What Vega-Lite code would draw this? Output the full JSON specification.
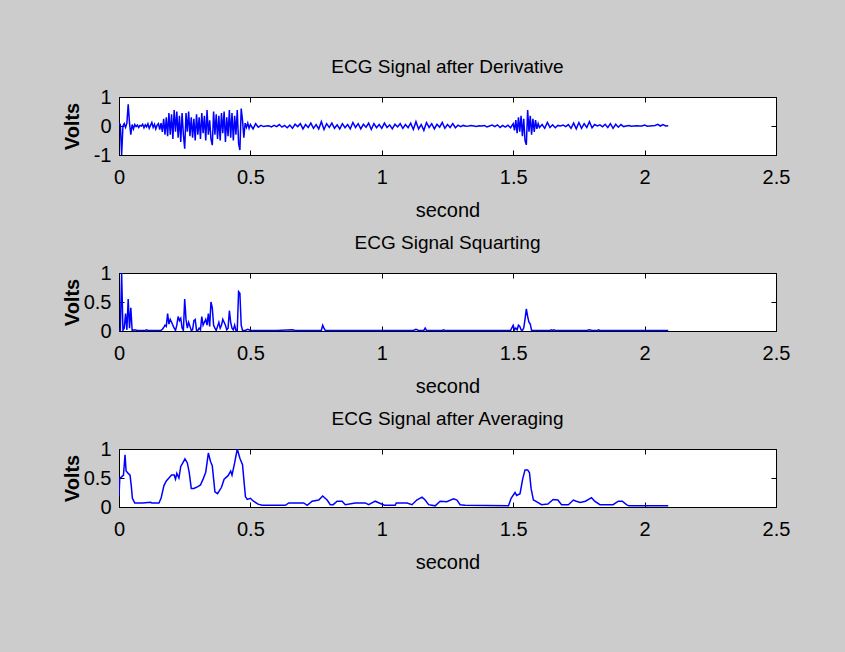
{
"$schema": "https://vega.github.io/schema/vega-lite/v6.json",
"background": "#cccccc",
"padding": {"left": 61, "top": 57, "right": 54, "bottom": 81},
"datasets": {
"d": [
{"t":0,"v":0.1},{"t":0.005,"v":0.05},{"t":0.01,"v":-1.0},{"t":0.015,"v":0.0},{"t":0.02,"v":0.08},{"t":0.025,"v":-0.05},{"t":0.03,"v":0.1},{"t":0.035,"v":0.75},{"t":0.04,"v":0.1},{"t":0.045,"v":-0.3},
{"t":0.05,"v":0.05},{"t":0.055,"v":-0.1},{"t":0.06,"v":0.05},{"t":0.065,"v":-0.02},{"t":0.07,"v":0.03},{"t":0.075,"v":-0.05},{"t":0.08,"v":0.02},{"t":0.085,"v":0.0},{"t":0.09,"v":0.06},{"t":0.095,"v":-0.06},
{"t":0.1,"v":0.04},{"t":0.105,"v":-0.03},{"t":0.11,"v":0.08},{"t":0.115,"v":-0.08},{"t":0.12,"v":0.02},{"t":0.125,"v":0.12},{"t":0.13,"v":-0.05},{"t":0.135,"v":0.06},{"t":0.14,"v":-0.1},{"t":0.145,"v":0.03},
{"t":0.15,"v":0.08},{"t":0.155,"v":-0.12},{"t":0.16,"v":0.1},{"t":0.165,"v":-0.2},{"t":0.17,"v":0.25},{"t":0.175,"v":-0.3},{"t":0.18,"v":0.3},{"t":0.185,"v":-0.35},{"t":0.19,"v":0.45},{"t":0.195,"v":-0.3},
{"t":0.2,"v":0.4},{"t":0.205,"v":-0.45},{"t":0.21,"v":0.55},{"t":0.215,"v":-0.2},{"t":0.22,"v":0.5},{"t":0.225,"v":-0.4},{"t":0.23,"v":0.35},{"t":0.235,"v":-0.55},{"t":0.24,"v":0.45},{"t":0.245,"v":-0.3},
{"t":0.25,"v":-0.78},{"t":0.255,"v":0.45},{"t":0.26,"v":-0.2},{"t":0.265,"v":0.5},{"t":0.27,"v":-0.35},{"t":0.275,"v":0.3},{"t":0.28,"v":-0.4},{"t":0.285,"v":0.25},{"t":0.29,"v":-0.5},{"t":0.295,"v":0.4},
{"t":0.3,"v":-0.3},{"t":0.305,"v":0.3},{"t":0.31,"v":-0.45},{"t":0.315,"v":0.45},{"t":0.32,"v":-0.25},{"t":0.325,"v":0.35},{"t":0.33,"v":-0.5},{"t":0.335,"v":0.55},{"t":0.34,"v":-0.3},{"t":0.345,"v":0.2},
{"t":0.35,"v":-0.45},{"t":0.355,"v":-0.66},{"t":0.36,"v":0.5},{"t":0.365,"v":-0.3},{"t":0.37,"v":0.4},{"t":0.375,"v":-0.45},{"t":0.38,"v":0.35},{"t":0.385,"v":-0.5},{"t":0.39,"v":0.45},{"t":0.395,"v":-0.25},
{"t":0.4,"v":0.5},{"t":0.405,"v":-0.55},{"t":0.41,"v":0.3},{"t":0.415,"v":-0.35},{"t":0.42,"v":0.55},{"t":0.425,"v":-0.4},{"t":0.43,"v":0.45},{"t":0.435,"v":-0.5},{"t":0.44,"v":0.35},{"t":0.445,"v":-0.3},
{"t":0.45,"v":0.55},{"t":0.455,"v":-0.6},{"t":0.46,"v":-0.83},{"t":0.465,"v":0.6},{"t":0.47,"v":0.2},{"t":0.475,"v":-0.4},{"t":0.48,"v":0.1},{"t":0.485,"v":-0.05},{"t":0.49,"v":0.1},{"t":0.495,"v":-0.08},
{"t":0.5,"v":0.05},{"t":0.51,"v":-0.1},{"t":0.52,"v":0.08},{"t":0.53,"v":-0.04},{"t":0.54,"v":0.02},{"t":0.55,"v":-0.02},{"t":0.56,"v":0.0},{"t":0.57,"v":0.01},{"t":0.58,"v":-0.03},{"t":0.59,"v":0.02},
{"t":0.6,"v":-0.02},{"t":0.61,"v":0.05},{"t":0.62,"v":-0.04},{"t":0.63,"v":0.02},{"t":0.64,"v":-0.06},{"t":0.65,"v":0.03},{"t":0.66,"v":-0.08},{"t":0.67,"v":0.06},{"t":0.68,"v":-0.02},{"t":0.69,"v":0.08},
{"t":0.7,"v":-0.1},{"t":0.71,"v":0.05},{"t":0.72,"v":-0.05},{"t":0.73,"v":0.1},{"t":0.74,"v":-0.08},{"t":0.75,"v":0.05},{"t":0.76,"v":-0.1},{"t":0.77,"v":0.15},{"t":0.78,"v":-0.12},{"t":0.79,"v":0.08},
{"t":0.8,"v":-0.05},{"t":0.81,"v":0.1},{"t":0.82,"v":-0.08},{"t":0.83,"v":0.04},{"t":0.84,"v":-0.1},{"t":0.85,"v":0.08},{"t":0.86,"v":-0.06},{"t":0.87,"v":0.05},{"t":0.88,"v":-0.1},{"t":0.89,"v":0.12},
{"t":0.9,"v":-0.05},{"t":0.91,"v":0.08},{"t":0.92,"v":-0.1},{"t":0.93,"v":0.06},{"t":0.94,"v":-0.04},{"t":0.95,"v":0.1},{"t":0.96,"v":-0.12},{"t":0.97,"v":0.08},{"t":0.98,"v":-0.06},{"t":0.99,"v":0.05},
{"t":1.0,"v":-0.08},{"t":1.01,"v":0.1},{"t":1.02,"v":-0.05},{"t":1.03,"v":0.04},{"t":1.04,"v":-0.1},{"t":1.05,"v":0.06},{"t":1.06,"v":-0.03},{"t":1.07,"v":0.08},{"t":1.08,"v":-0.08},{"t":1.09,"v":0.05},
{"t":1.1,"v":-0.06},{"t":1.11,"v":0.1},{"t":1.12,"v":-0.12},{"t":1.13,"v":0.15},{"t":1.14,"v":-0.1},{"t":1.15,"v":0.05},{"t":1.16,"v":-0.15},{"t":1.17,"v":0.12},{"t":1.18,"v":-0.05},{"t":1.19,"v":0.08},
{"t":1.2,"v":-0.1},{"t":1.21,"v":0.06},{"t":1.22,"v":-0.04},{"t":1.23,"v":0.12},{"t":1.24,"v":-0.08},{"t":1.25,"v":0.05},{"t":1.26,"v":-0.05},{"t":1.27,"v":0.08},{"t":1.28,"v":-0.06},{"t":1.29,"v":0.03},
{"t":1.3,"v":-0.02},{"t":1.31,"v":0.02},{"t":1.32,"v":-0.01},{"t":1.33,"v":0.0},{"t":1.34,"v":0.02},{"t":1.35,"v":0.0},{"t":1.36,"v":-0.02},{"t":1.37,"v":0.01},{"t":1.38,"v":0.0},{"t":1.39,"v":0.02},
{"t":1.4,"v":-0.03},{"t":1.41,"v":0.0},{"t":1.42,"v":0.03},{"t":1.43,"v":-0.02},{"t":1.44,"v":0.04},{"t":1.45,"v":-0.05},{"t":1.46,"v":0.02},{"t":1.47,"v":-0.04},{"t":1.48,"v":0.03},{"t":1.49,"v":-0.06},
{"t":1.5,"v":0.08},{"t":1.505,"v":-0.15},{"t":1.51,"v":0.2},{"t":1.515,"v":-0.25},{"t":1.52,"v":0.3},{"t":1.525,"v":-0.2},{"t":1.53,"v":0.35},{"t":1.535,"v":-0.35},{"t":1.54,"v":0.25},{"t":1.545,"v":-0.5},
{"t":1.55,"v":-0.65},{"t":1.555,"v":0.55},{"t":1.56,"v":-0.2},{"t":1.565,"v":0.35},{"t":1.57,"v":-0.3},{"t":1.575,"v":0.25},{"t":1.58,"v":-0.2},{"t":1.585,"v":0.2},{"t":1.59,"v":-0.1},{"t":1.595,"v":0.08},
{"t":1.6,"v":-0.05},{"t":1.61,"v":0.05},{"t":1.62,"v":-0.08},{"t":1.63,"v":0.12},{"t":1.64,"v":-0.05},{"t":1.65,"v":0.04},{"t":1.66,"v":-0.06},{"t":1.67,"v":0.02},{"t":1.68,"v":0.0},{"t":1.69,"v":0.03},
{"t":1.7,"v":-0.02},{"t":1.71,"v":0.05},{"t":1.72,"v":-0.08},{"t":1.73,"v":0.1},{"t":1.74,"v":-0.1},{"t":1.75,"v":0.12},{"t":1.76,"v":-0.08},{"t":1.77,"v":0.08},{"t":1.78,"v":-0.05},{"t":1.79,"v":0.15},
{"t":1.8,"v":-0.06},{"t":1.81,"v":0.05},{"t":1.82,"v":0.0},{"t":1.83,"v":0.04},{"t":1.84,"v":-0.03},{"t":1.85,"v":0.06},{"t":1.86,"v":-0.05},{"t":1.87,"v":0.08},{"t":1.88,"v":-0.08},{"t":1.89,"v":0.06},
{"t":1.9,"v":-0.04},{"t":1.91,"v":0.05},{"t":1.92,"v":-0.02},{"t":1.93,"v":0.0},{"t":1.94,"v":0.02},{"t":1.95,"v":-0.01},{"t":1.96,"v":0.0},{"t":1.97,"v":0.01},{"t":1.98,"v":0.0},{"t":1.99,"v":0.0},
{"t":2.0,"v":0.03},{"t":2.01,"v":-0.01},{"t":2.02,"v":0.0},{"t":2.03,"v":0.01},{"t":2.04,"v":0.02},{"t":2.05,"v":0.06},{"t":2.06,"v":0.0},{"t":2.07,"v":0.05},{"t":2.08,"v":0.0},{"t":2.09,"v":0.01}
],
"s": [
{"t":0,"v":0.02},{"t":0.005,"v":0.01},{"t":0.01,"v":1.0},{"t":0.015,"v":0.01},{"t":0.02,"v":0.05},{"t":0.025,"v":0.3},{"t":0.03,"v":0.02},{"t":0.035,"v":0.55},{"t":0.04,"v":0.05},{"t":0.045,"v":0.4},
{"t":0.05,"v":0.01},{"t":0.06,"v":0.02},{"t":0.07,"v":0.01},{"t":0.1,"v":0.01},{"t":0.105,"v":0.02},{"t":0.11,"v":0.01},{"t":0.16,"v":0.01},{"t":0.165,"v":0.03},{"t":0.17,"v":0.06},{"t":0.175,"v":0.1},
{"t":0.18,"v":0.08},{"t":0.185,"v":0.3},{"t":0.19,"v":0.12},{"t":0.195,"v":0.2},{"t":0.2,"v":0.15},{"t":0.205,"v":0.1},{"t":0.21,"v":0.05},{"t":0.215,"v":0.01},{"t":0.22,"v":0.1},{"t":0.225,"v":0.25},
{"t":0.23,"v":0.18},{"t":0.235,"v":0.22},{"t":0.24,"v":0.05},{"t":0.245,"v":0.01},{"t":0.25,"v":0.55},{"t":0.255,"v":0.2},{"t":0.26,"v":0.05},{"t":0.265,"v":0.15},{"t":0.27,"v":0.08},{"t":0.275,"v":0.01},
{"t":0.28,"v":0.02},{"t":0.285,"v":0.18},{"t":0.29,"v":0.2},{"t":0.295,"v":0.01},{"t":0.3,"v":0.01},{"t":0.305,"v":0.05},{"t":0.31,"v":0.02},{"t":0.315,"v":0.25},{"t":0.32,"v":0.1},{"t":0.325,"v":0.15},
{"t":0.33,"v":0.2},{"t":0.335,"v":0.1},{"t":0.34,"v":0.3},{"t":0.345,"v":0.08},{"t":0.35,"v":0.5},{"t":0.355,"v":0.4},{"t":0.36,"v":0.1},{"t":0.365,"v":0.05},{"t":0.37,"v":0.01},{"t":0.375,"v":0.08},
{"t":0.38,"v":0.15},{"t":0.385,"v":0.05},{"t":0.39,"v":0.1},{"t":0.395,"v":0.2},{"t":0.4,"v":0.15},{"t":0.405,"v":0.1},{"t":0.41,"v":0.02},{"t":0.415,"v":0.05},{"t":0.42,"v":0.35},{"t":0.425,"v":0.15},
{"t":0.43,"v":0.05},{"t":0.435,"v":0.02},{"t":0.44,"v":0.1},{"t":0.445,"v":0.01},{"t":0.45,"v":0.01},{"t":0.455,"v":0.68},{"t":0.46,"v":0.65},{"t":0.465,"v":0.1},{"t":0.47,"v":0.01},{"t":0.48,"v":0.01},
{"t":0.49,"v":0.03},{"t":0.5,"v":0.01},{"t":0.6,"v":0.01},{"t":0.66,"v":0.02},{"t":0.67,"v":0.01},{"t":0.77,"v":0.01},{"t":0.775,"v":0.1},{"t":0.78,"v":0.05},{"t":0.785,"v":0.01},{"t":1.12,"v":0.01},
{"t":1.13,"v":0.03},{"t":1.14,"v":0.01},{"t":1.16,"v":0.01},{"t":1.165,"v":0.05},{"t":1.17,"v":0.01},{"t":1.23,"v":0.01},{"t":1.235,"v":0.02},{"t":1.24,"v":0.01},{"t":1.49,"v":0.01},{"t":1.5,"v":0.1},
{"t":1.505,"v":0.02},{"t":1.51,"v":0.05},{"t":1.515,"v":0.02},{"t":1.52,"v":0.1},{"t":1.525,"v":0.08},{"t":1.53,"v":0.02},{"t":1.535,"v":0.01},{"t":1.54,"v":0.05},{"t":1.545,"v":0.2},{"t":1.55,"v":0.38},
{"t":1.555,"v":0.25},{"t":1.56,"v":0.15},{"t":1.565,"v":0.12},{"t":1.57,"v":0.01},{"t":1.64,"v":0.01},{"t":1.645,"v":0.02},{"t":1.65,"v":0.01},{"t":1.655,"v":0.02},{"t":1.66,"v":0.01},{"t":1.78,"v":0.01},
{"t":1.79,"v":0.02},{"t":1.8,"v":0.01},{"t":1.82,"v":0.01},{"t":1.825,"v":0.02},{"t":1.83,"v":0.01},{"t":2.09,"v":0.01}
],
"a": [
{"t":0,"v":0.18},{"t":0.003,"v":0.5},{"t":0.01,"v":0.52},{"t":0.017,"v":0.55},{"t":0.023,"v":0.9},{"t":0.027,"v":0.62},{"t":0.035,"v":0.58},{"t":0.042,"v":0.55},{"t":0.047,"v":0.35},{"t":0.051,"v":0.15},
{"t":0.06,"v":0.07},{"t":0.09,"v":0.07},{"t":0.12,"v":0.08},{"t":0.125,"v":0.07},{"t":0.152,"v":0.07},{"t":0.16,"v":0.15},{"t":0.171,"v":0.37},{"t":0.18,"v":0.45},{"t":0.19,"v":0.5},{"t":0.2,"v":0.55},
{"t":0.21,"v":0.55},{"t":0.215,"v":0.48},{"t":0.22,"v":0.58},{"t":0.228,"v":0.5},{"t":0.235,"v":0.7},{"t":0.245,"v":0.78},{"t":0.251,"v":0.83},{"t":0.26,"v":0.76},{"t":0.267,"v":0.6},{"t":0.275,"v":0.32},
{"t":0.285,"v":0.32},{"t":0.3,"v":0.35},{"t":0.31,"v":0.38},{"t":0.32,"v":0.48},{"t":0.33,"v":0.6},{"t":0.34,"v":0.93},{"t":0.348,"v":0.79},{"t":0.355,"v":0.71},{"t":0.365,"v":0.26},{"t":0.375,"v":0.23},
{"t":0.39,"v":0.34},{"t":0.4,"v":0.48},{"t":0.415,"v":0.54},{"t":0.425,"v":0.62},{"t":0.43,"v":0.55},{"t":0.44,"v":0.76},{"t":0.45,"v":1.0},{"t":0.46,"v":0.84},{"t":0.47,"v":0.73},{"t":0.475,"v":0.48},
{"t":0.481,"v":0.18},{"t":0.488,"v":0.13},{"t":0.5,"v":0.15},{"t":0.512,"v":0.1},{"t":0.529,"v":0.05},{"t":0.545,"v":0.03},{"t":0.633,"v":0.03},{"t":0.646,"v":0.07},{"t":0.703,"v":0.07},{"t":0.716,"v":0.03},
{"t":0.735,"v":0.1},{"t":0.76,"v":0.12},{"t":0.775,"v":0.19},{"t":0.792,"v":0.12},{"t":0.804,"v":0.04},{"t":0.815,"v":0.04},{"t":0.83,"v":0.1},{"t":0.849,"v":0.1},{"t":0.861,"v":0.04},{"t":0.899,"v":0.07},
{"t":0.937,"v":0.07},{"t":0.95,"v":0.04},{"t":0.975,"v":0.1},{"t":0.99,"v":0.07},{"t":1.01,"v":0.03},{"t":1.051,"v":0.03},{"t":1.055,"v":0.07},{"t":1.096,"v":0.07},{"t":1.115,"v":0.04},{"t":1.133,"v":0.12},
{"t":1.153,"v":0.17},{"t":1.165,"v":0.12},{"t":1.178,"v":0.04},{"t":1.203,"v":0.02},{"t":1.222,"v":0.1},{"t":1.247,"v":0.09},{"t":1.273,"v":0.14},{"t":1.286,"v":0.12},{"t":1.298,"v":0.04},{"t":1.317,"v":0.03},
{"t":1.482,"v":0.02},{"t":1.492,"v":0.15},{"t":1.507,"v":0.25},{"t":1.513,"v":0.2},{"t":1.526,"v":0.23},{"t":1.536,"v":0.48},{"t":1.545,"v":0.64},{"t":1.555,"v":0.64},{"t":1.562,"v":0.59},{"t":1.568,"v":0.32},
{"t":1.577,"v":0.12},{"t":1.59,"v":0.09},{"t":1.608,"v":0.04},{"t":1.632,"v":0.05},{"t":1.652,"v":0.13},{"t":1.67,"v":0.12},{"t":1.684,"v":0.04},{"t":1.71,"v":0.04},{"t":1.729,"v":0.12},{"t":1.74,"v":0.1},
{"t":1.755,"v":0.08},{"t":1.775,"v":0.1},{"t":1.798,"v":0.16},{"t":1.81,"v":0.1},{"t":1.83,"v":0.04},{"t":1.88,"v":0.04},{"t":1.9,"v":0.1},{"t":1.915,"v":0.1},{"t":1.931,"v":0.04},{"t":1.94,"v":0.02},
{"t":2.09,"v":0.02}
]
},
"vconcat": [
{
"width": 657, "height": 58,
"title": "ECG Signal after Derivative",
"data": {"name": "d"},
"layer": [
{"mark": {"type": "line", "color": "#0000ff", "strokeWidth": 1.5, "clip": true},
"encoding": {
"x": {"field": "t", "type": "quantitative", "scale": {"domain": [0, 2.5], "nice": false}, "axis": {"orient": "bottom", "values": [0, 0.5, 1, 1.5, 2, 2.5], "format": "~g", "title": "second"}},
"y": {"field": "v", "type": "quantitative", "scale": {"domain": [-1, 1], "nice": false}, "axis": {"orient": "left", "values": [-1, 0, 1], "format": "~g", "labelExpr": "datum.value < 0 ? '-1' : datum.label", "title": "Volts", "titlePadding": 11}}
}},
{"mark": {"type": "line", "opacity": 0},
"encoding": {
"x": {"field": "t", "type": "quantitative", "axis": {"orient": "top", "values": [0, 0.5, 1, 1.5, 2, 2.5], "labels": false, "title": null}},
"y": {"field": "v", "type": "quantitative", "axis": {"orient": "right", "values": [-1, 0, 1], "labels": false, "title": null}}
}}
],
"resolve": {"axis": {"x": "independent", "y": "independent"}}
},
{
"width": 657, "height": 58,
"title": "ECG Signal Squarting",
"data": {"name": "s"},
"layer": [
{"mark": {"type": "line", "color": "#0000ff", "strokeWidth": 1.5, "clip": true},
"encoding": {
"x": {"field": "t", "type": "quantitative", "scale": {"domain": [0, 2.5], "nice": false}, "axis": {"orient": "bottom", "values": [0, 0.5, 1, 1.5, 2, 2.5], "format": "~g", "title": "second"}},
"y": {"field": "v", "type": "quantitative", "scale": {"domain": [0, 1], "nice": false}, "axis": {"orient": "left", "values": [0, 0.5, 1], "format": "~g", "title": "Volts", "titlePadding": 1}}
}},
{"mark": {"type": "line", "opacity": 0},
"encoding": {
"x": {"field": "t", "type": "quantitative", "axis": {"orient": "top", "values": [0, 0.5, 1, 1.5, 2, 2.5], "labels": false, "title": null}},
"y": {"field": "v", "type": "quantitative", "axis": {"orient": "right", "values": [0, 0.5, 1], "labels": false, "title": null}}
}}
],
"resolve": {"axis": {"x": "independent", "y": "independent"}}
},
{
"width": 657, "height": 58,
"title": "ECG Signal after Averaging",
"data": {"name": "a"},
"layer": [
{"mark": {"type": "line", "color": "#0000ff", "strokeWidth": 1.5, "clip": true},
"encoding": {
"x": {"field": "t", "type": "quantitative", "scale": {"domain": [0, 2.5], "nice": false}, "axis": {"orient": "bottom", "values": [0, 0.5, 1, 1.5, 2, 2.5], "format": "~g", "title": "second"}},
"y": {"field": "v", "type": "quantitative", "scale": {"domain": [0, 1], "nice": false}, "axis": {"orient": "left", "values": [0, 0.5, 1], "format": "~g", "title": "Volts", "titlePadding": 1}}
}},
{"mark": {"type": "line", "opacity": 0},
"encoding": {
"x": {"field": "t", "type": "quantitative", "axis": {"orient": "top", "values": [0, 0.5, 1, 1.5, 2, 2.5], "labels": false, "title": null}},
"y": {"field": "v", "type": "quantitative", "axis": {"orient": "right", "values": [0, 0.5, 1], "labels": false, "title": null}}
}}
],
"resolve": {"axis": {"x": "independent", "y": "independent"}}
}
],
"spacing": 12,
"config": {
"font": "Liberation Sans",
"view": {"stroke": "#000000", "strokeWidth": 1, "fill": "#ffffff"},
"axis": {"domain": false, "grid": false, "tickColor": "#000000", "tickSize": -5, "tickWidth": 1, "labelFontSize": 20, "labelColor": "#000000", "labelFlush": false, "labelOverlap": false, "titleFontSize": 20, "titleColor": "#000000", "titleFontWeight": "normal"},
"axisBottom": {"labelPadding": 17, "titlePadding": 13},
"axisLeft": {"labelPadding": 13, "titleFontWeight": "bold"},
"title": {"fontSize": 19, "fontWeight": "normal", "color": "#000000", "offset": 10}
}
}
